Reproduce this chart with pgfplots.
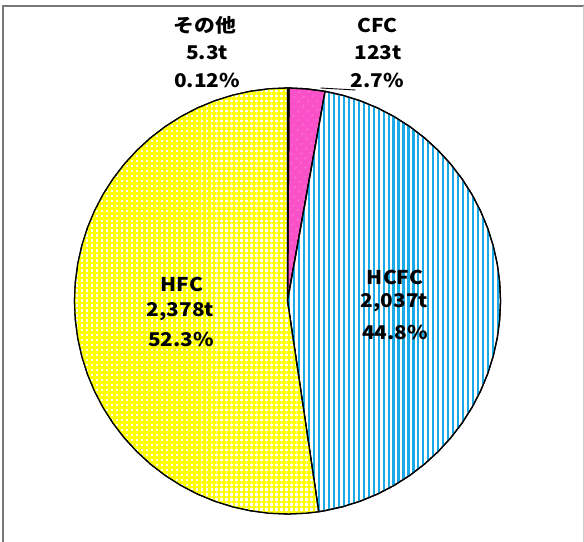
\documentclass[border=0pt]{standalone}
\usepackage{pgfplots}
\pgfplotsset{compat=1.18}
\usetikzlibrary{patterns,patterns.meta}
\usepackage{fontspec}
\setmainfont{Noto Sans CJK JP}
\definecolor{cfcpink}{RGB}{250,80,200}
\definecolor{dotpink}{RGB}{255,170,225}
\definecolor{hcfcblue}{RGB}{25,170,232}
\definecolor{hfcyellow}{RGB}{255,255,0}
\definecolor{framegray}{RGB}{120,120,120}
\begin{document}
\begin{tikzpicture}
\begin{axis}[
  scale only axis, width=584bp, height=542bp,
  xmin=-287.5, xmax=296.5, ymin=-241, ymax=301,
  hide axis, clip=true,
]
\path (axis cs:-287.5,-241) rectangle (axis cs:296.5,301);
% frame
\draw[framegray, line width=1.6pt] (axis cs:-284.5,-260) -- (axis cs:-284.5,295) -- (axis cs:296,295);
\draw[gray!40, line width=0.8pt] (axis cs:295.5,295) -- (axis cs:295.5,-260);
% その他 5.3t (0.12%)
\addplot[data cs=polar, preaction={fill=white}, draw=black, line width=1.3pt, line join=round]
  coordinates {(0,0) (90,213) (89.58,213) (0,0)};
% CFC 123t (2.7%)
\addplot[data cs=polar, preaction={fill=cfcpink}, pattern={Dots[distance=6.5pt, radius=0.75pt, angle=45]}, pattern color=dotpink, draw=black, line width=1.3pt, line join=round]
  coordinates {(0,0) (89.58,213) (85,213) (79.83,213) (0,0)};
% HCFC 2,037t (44.8%)
\addplot[data cs=polar, preaction={fill=white}, pattern={Lines[angle=90, distance=5pt, line width=2.1pt]}, pattern color=hcfcblue, draw=black, line width=1.3pt, line join=round]
  coordinates {(0,0) (79.83,213) (75,213) (70,213) (65,213) (60,213) (55,213) (50,213) (45,213) (40,213) (35,213) (30,213) (25,213) (20,213) (15,213) (10,213) (5,213) (0,213) (-5,213) (-10,213) (-15,213) (-20,213) (-25,213) (-30,213) (-35,213) (-40,213) (-45,213) (-50,213) (-55,213) (-60,213) (-65,213) (-70,213) (-75,213) (-80,213) (-81.58,213) (0,0)};
% HFC 2,378t (52.3%)
\addplot[data cs=polar, preaction={fill=white}, pattern={Hatch[angle=0, distance=5pt, line width=2.6pt]}, pattern color=hfcyellow, draw=black, line width=1.3pt, line join=round]
  coordinates {(0,0) (-81.58,213) (-85,213) (-90,213) (-95,213) (-100,213) (-105,213) (-110,213) (-115,213) (-120,213) (-125,213) (-130,213) (-135,213) (-140,213) (-145,213) (-150,213) (-155,213) (-160,213) (-165,213) (-170,213) (-175,213) (-180,213) (-185,213) (-190,213) (-195,213) (-200,213) (-205,213) (-210,213) (-215,213) (-220,213) (-225,213) (-230,213) (-235,213) (-240,213) (-245,213) (-250,213) (-255,213) (-260,213) (-265,213) (-270,213) (0,0)};
% leader line
\draw[black, line width=0.9pt] (axis cs:33,213) -- (axis cs:68,211);
% labels
\tikzset{lbl/.style={font=\fontsize{19}{22}\selectfont\bfseries, inner sep=0pt, anchor=center, xscale=1.1}}
\node[lbl] at (axis cs:-82.5,276) {その他};
\node[lbl] at (axis cs:-80.5,248) {5.3t};
\node[lbl] at (axis cs:-80.5,221) {0.12\%};
\node[lbl] at (axis cs:90,276) {CFC};
\node[lbl] at (axis cs:90.5,248) {123t};
\node[lbl] at (axis cs:90,221) {2.7\%};
\node[lbl] at (axis cs:107.5,24) {HCFC};
\node[lbl] at (axis cs:107,-2) {2,037t};
\node[lbl] at (axis cs:107.5,-31) {44.8\%};
\node[lbl] at (axis cs:-105.5,17) {HFC};
\node[lbl] at (axis cs:-107,-11) {2,378t};
\node[lbl] at (axis cs:-106.5,-38) {52.3\%};
\end{axis}
\end{tikzpicture}
\end{document}
